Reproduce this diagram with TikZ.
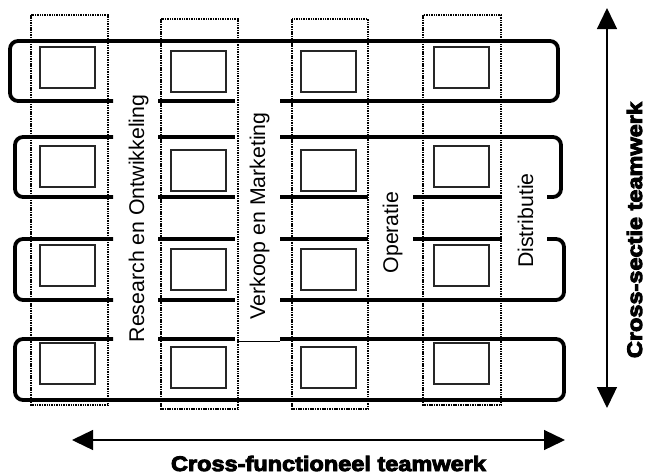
\documentclass[tikz,border=0pt]{standalone}
\usepackage{fontspec}
\setmainfont{Liberation Sans}
\newfontfamily\heavyfont{Liberation Sans Bold}[FakeBold=4.5, FakeStretch=1.12]
\usetikzlibrary{arrows.meta}

\tikzset{
  band/.style={line width=3.8pt, rounded corners=8pt, line cap=butt},
  bandseg/.style={line width=3.8pt},
  unit/.style={draw=black!85, line width=1.4pt},
  dept/.style={draw, line width=2.2pt, dash pattern=on 1.5pt off 0.9pt},
  deptlabel/.style={rotate=90, anchor=base, font=\fontsize{21.3}{24}\selectfont, inner sep=0pt},
  axislabel/.style={anchor=base, font=\heavyfont\fontsize{21}{24}\selectfont, inner sep=0pt},
  axis/.style={line width=1.3pt, {Triangle[length=21pt, width=20pt]}-{Triangle[length=21pt, width=20pt]}},
}

\begin{document}
\begin{tikzpicture}[x=1pt, y=-1pt]
\useasboundingbox (0,0) rectangle (649,475);

% departmental columns (dotted)
\draw[dept] (31,15) rectangle (108,405);
\draw[dept] (161,19) rectangle (238,409);
\draw[dept] (292,19) rectangle (368,409);
\draw[dept] (423,15) rectangle (501,405);

% team members: one square per department and row
\foreach \y in {47,146,245,343} {
  \draw[unit] (40,\y) rectangle ++(55,41);
  \draw[unit] (434,\y) rectangle ++(55,41);
}
\foreach \y in {51,150,249,347} {
  \draw[unit] (171,\y) rectangle ++(55,41);
  \draw[unit] (301,\y) rectangle ++(55,41);
}

% row 1
\draw[band] (113,101) -- (10,101) -- (10,41) -- (558,41) -- (558,101) -- (280,101);
\draw[bandseg] (158,101) -- (235,101);

% row 2
\draw[band] (113,137) -- (15,137) -- (15,197) -- (113,197);
\draw[bandseg] (158,137) -- (235,137);
\draw[bandseg] (158,197) -- (235,197);
\draw[band] (280,137) -- (561,137) -- (561,197) -- (547,197);
\draw[bandseg] (280,197) -- (368,197);
\draw[bandseg] (413,197) -- (502,197);

% row 3
\draw[band] (113,239) -- (15,239) -- (15,300) -- (113,300);
\draw[bandseg] (158,239) -- (235,239);
\draw[bandseg] (158,300) -- (235,300);
\draw[band] (547,239) -- (564,239) -- (564,300) -- (280,300);
\draw[bandseg] (280,239) -- (368,239);
\draw[bandseg] (413,239) -- (502,239);

% row 4
\draw[band] (113,339) -- (15,339) -- (15,400) -- (564,400) -- (564,339) -- (280,339);
\draw[bandseg] (158,339) -- (235,339);
\draw[line width=0.8pt] (237,341) -- (280,341);

% department names
\node[deptlabel] (rd)  at (144,218.5) {Research en Ontwikkeling};
\node[deptlabel] (vm)  at (265,216)   {Verkoop en Marketing};
\node[deptlabel] (op)  at (398,232.5) {Operatie};
\node[deptlabel] (dis) at (533,220.5) {Distributie};

% axes
\coordinate (vtop) at (607,8);
\coordinate (vbot) at (607,408);
\coordinate (hleft) at (72,440);
\coordinate (hright) at (565,440);
\draw[axis] (vtop) -- (vbot);
\draw[axis] (hleft) -- (hright);

\node[axislabel] (hlab) at (328.5,471) {Cross-functioneel teamwerk};
\node[axislabel, rotate=90] (vlab) at (642,230) {Cross-sectie teamwerk};
\end{tikzpicture}
\end{document}
